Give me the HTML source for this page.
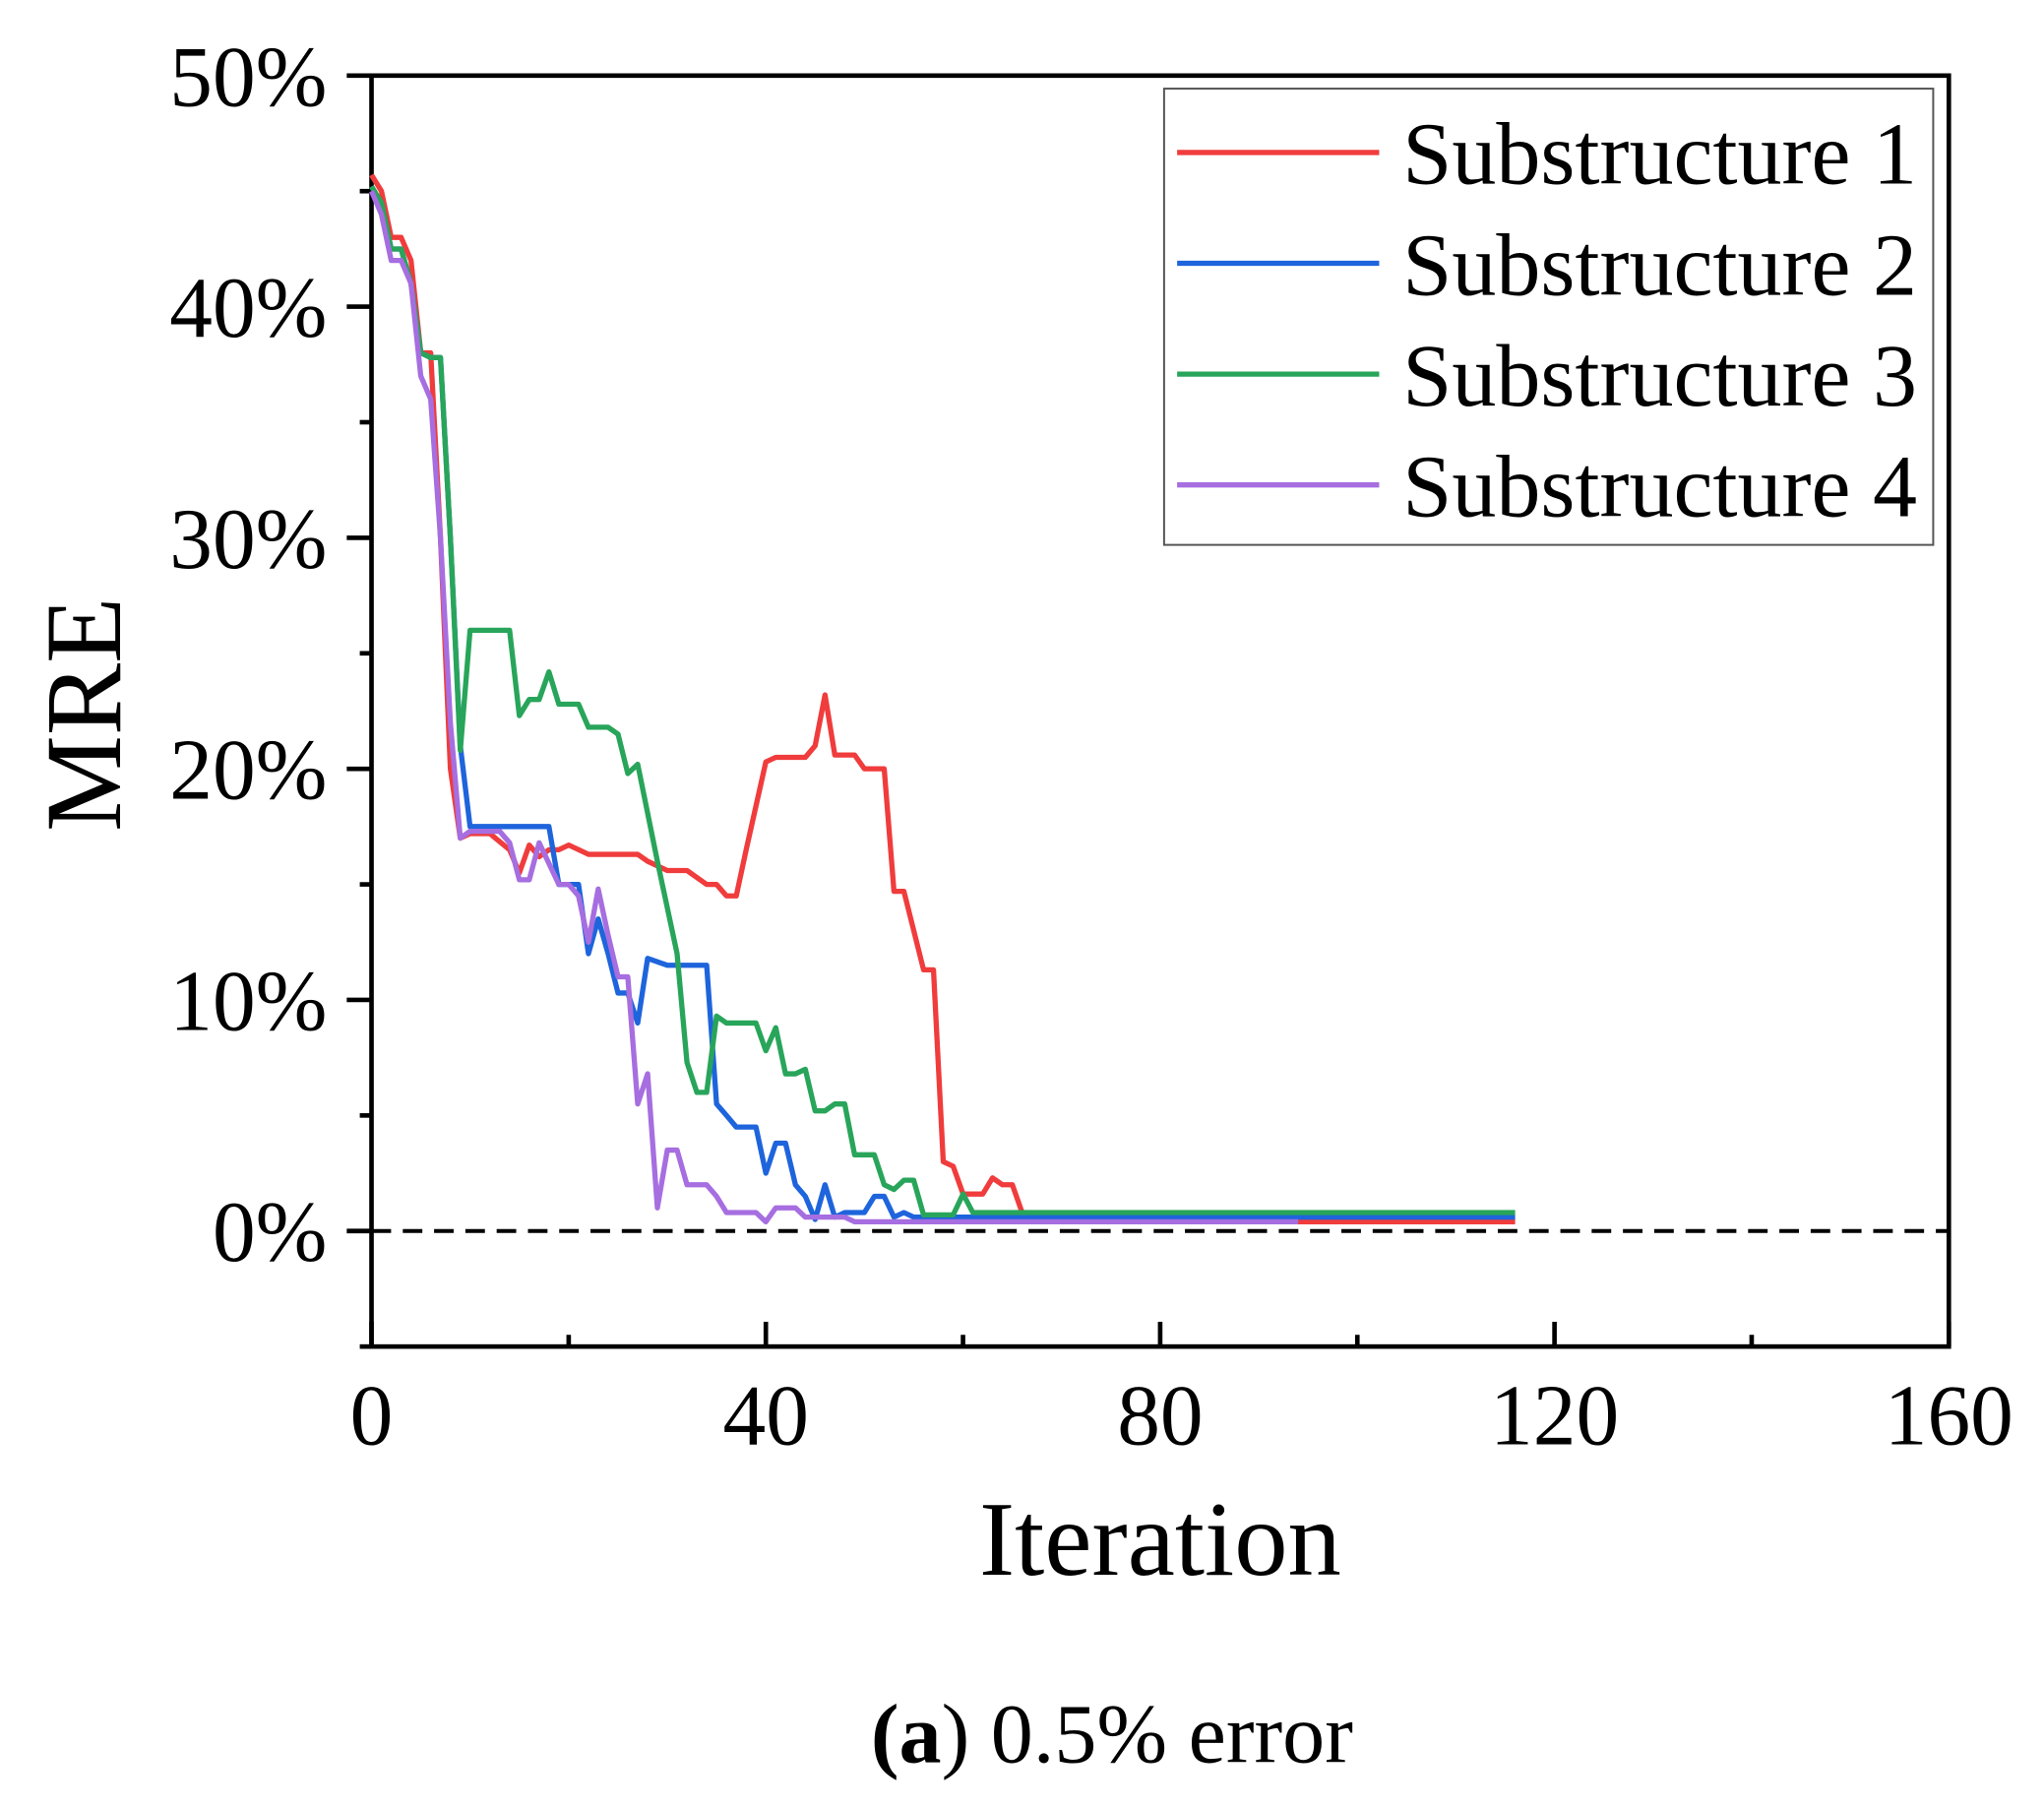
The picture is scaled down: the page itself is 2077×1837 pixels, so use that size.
<!DOCTYPE html>
<html><head><meta charset="utf-8"><style>
html,body{margin:0;padding:0;background:#fff;}
svg{display:block;}
text{font-family:"Liberation Serif",serif;fill:#000;}
</style></head><body>
<svg id="chart" width="2077" height="1837" viewBox="0 0 1568 1387" preserveAspectRatio="none" xmlns="http://www.w3.org/2000/svg">
<g id="axes"></g>
<g id="series"></g>
<g id="legend"></g>
<text x="890" y="1208" font-size="82" text-anchor="middle">Iteration</text>
<text transform="translate(92,548) rotate(-90)" font-size="83" text-anchor="middle">MRE</text>
<text x="853" y="1352" font-size="65" text-anchor="middle"><tspan font-weight="bold">(a</tspan>) 0.5% error</text>
</svg>
<script>
const xTicks = [0, 40, 80, 120, 160];
const yTicks = [0, 10, 20, 30, 40, 50];
const seriesNames = ["Substructure 1", "Substructure 2", "Substructure 3", "Substructure 4"];
const seriesColors = ["#f03c3c", "#1e64dc", "#28a55a", "#a66ee0"];
const s1x = [0,1,2,3,4,5,6,7,8,9,10,12,14,15,16,17,18,19,20,22,27,28,30,32,34,35,36,37,38,40,41,44,45,46,47,49,50,52,53,54,56,57,58,59,60,62,63,64,65,66,67,116];
const s1y = [45.7,45,43,43,42,38,38,30,20,17,17.2,17.2,16.5,15.5,16.7,16.2,16.5,16.5,16.7,16.3,16.3,16,15.6,15.6,15,15,14.5,14.5,16.5,20.3,20.5,20.5,21,23.2,20.6,20.6,20,20,14.7,14.7,11.3,11.3,3,2.8,1.6,1.6,2.3,2,2,0.8,0.4,0.4];
const s2x = [0,1,2,3,4,5,6,7,8,9,10,18,19,21,22,23,24,25,26,27,28,30,34,35,36,37,39,40,41,42,43,44,45,46,47,48,50,51,52,53,54,55,116];
const s2y = [45.2,44.5,42.5,42.5,41,38,37.8,37.8,30,21,17.5,17.5,15,15,12,13.5,12,10.3,10.3,9,11.8,11.5,11.5,5.5,5,4.5,4.5,2.5,3.8,3.8,2,1.5,0.5,2,0.6,0.8,0.8,1.5,1.5,0.6,0.8,0.6,0.6];
const s3x = [0,1,2,3,4,5,6,7,8,9,10,14,15,16,17,18,19,21,22,24,25,26,27,29,31,32,33,34,35,36,39,40,41,42,43,44,45,46,47,48,49,51,52,53,54,55,56,59,60,61,116];
const s3y = [45.2,44.5,42.5,42.5,41,38,37.8,37.8,30,20.8,26,26,22.3,23,23,24.2,22.8,22.8,21.8,21.8,21.5,19.8,20.2,16,12,7.3,6,6,9.3,9,9,7.8,8.8,6.8,6.8,7,5.2,5.2,5.5,5.5,3.3,3.3,2,1.8,2.2,2.2,0.7,0.7,1.6,0.8,0.8];
const s4x = [0,1,2,3,4,5,6,7,8,9,10,13,14,15,16,17,19,20,21,22,23,24,25,26,27,28,29,30,31,32,34,35,36,39,40,41,43,44,48,49,94];
const s4y = [45,44,42,42,41,37,36,30,22,17,17.3,17.3,16.8,15.2,15.2,16.8,15,15,14.5,12.5,14.8,12.8,11,11,5.5,6.8,1,3.5,3.5,2,2,1.5,0.8,0.8,0.4,1,1,0.6,0.6,0.4,0.4];
const seriesX = [s1x, s2x, s3x, s4x];
const seriesY = [s1y, s2y, s3y, s4y];

const L = 285, R = 1495, T = 58, B = 1033;
const xMin = 0, xMax = 160, yMin = -5, yMax = 50;
function xs(v){ return L + (v - xMin) / (xMax - xMin) * (R - L); }
function ys(v){ return B - (v - yMin) / (yMax - yMin) * (B - T); }
const NS = "http://www.w3.org/2000/svg";
function mk(tag, attrs, parent){ const e = document.createElementNS(NS, tag); for (const k in attrs) e.setAttribute(k, attrs[k]); parent.appendChild(e); return e; }

const axes = document.getElementById('axes');
const frame = mk('rect', {x:L, y:T, width:R-L, height:B-T, fill:'none', stroke:'#000', 'stroke-width':3.5}, axes);


const zl = mk('line', {x1:L, x2:R, y1:ys(0), y2:ys(0), stroke:'#000', 'stroke-width':3, 'stroke-dasharray':'15 9'}, axes);


for (let v = 0; v <= 160; v += 20) {
  const major = v % 40 === 0;
  const t = mk('line', {x1:xs(v), x2:xs(v), y1:B, y2:B - (major ? 19 : 9), stroke:'#000', 'stroke-width':3.5}, axes);
  
  
}
xTicks.forEach(v => {
  const t = mk('text', {x:xs(v), y:1108, 'font-size':66, 'text-anchor':'middle'}, axes);
  t.textContent = v;
  
  
});
for (let v = -5; v <= 50; v += 5) {
  const major = v % 10 === 0;
  const t = mk('line', {x1:L, x2:L - (major ? 19 : 9), y1:ys(v), y2:ys(v), stroke:'#000', 'stroke-width':3.5}, axes);
  
  
}
yTicks.forEach(v => {
  const t = mk('text', {x:251, y:ys(v) + 23, 'font-size':66, 'text-anchor':'end'}, axes);
  t.textContent = v + '%';
  
  
});

const sg = document.getElementById('series');
seriesX.forEach((xa, i) => {
  const pts = xa.map((x, j) => xs(x).toFixed(1) + ',' + ys(seriesY[i][j]).toFixed(1)).join(' ');
  const p = mk('polyline', {points:pts, fill:'none', stroke:seriesColors[i], 'stroke-width':4, 'stroke-linejoin':'round'}, sg);
  
  
});

const lg = document.getElementById('legend');
const box = mk('rect', {x:893, y:68, width:590, height:350, fill:'#fff', stroke:'#555', 'stroke-width':1.5}, lg);


seriesNames.forEach((n, i) => {
  const y = 117 + i * 85;
  const l = mk('line', {x1:903, x2:1058, y1:y, y2:y, stroke:seriesColors[i], 'stroke-width':4}, lg);
  
  
  const t = mk('text', {x:1076, y:y + 24, 'font-size':68}, lg);
  t.textContent = n;
  
  
});
</script>
</body></html>
